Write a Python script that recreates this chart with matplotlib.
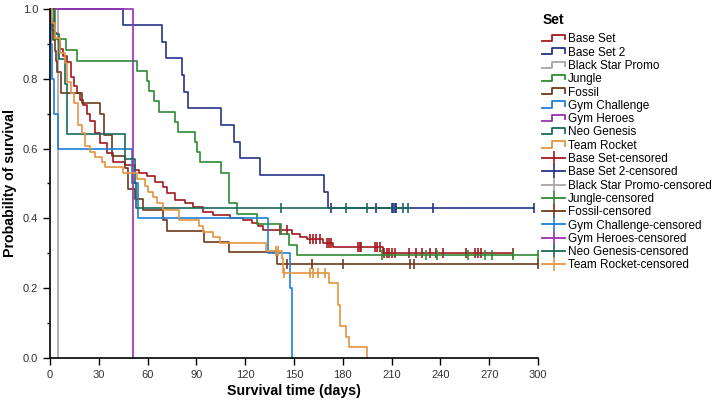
import matplotlib
matplotlib.use("Agg")
import matplotlib.pyplot as plt
import numpy as np
from matplotlib.lines import Line2D
from matplotlib.legend_handler import HandlerBase

plt.rcParams['font.family'] = ['Liberation Sans', 'DejaVu Sans']

# Kaplan-Meier curves: event times (days) and survival after each event
set_names = ["Base Set", "Base Set 2", "Black Star Promo", "Jungle", "Fossil",
             "Gym Challenge", "Gym Heroes", "Neo Genesis", "Team Rocket"]
set_colors = ["#a3191f", "#25348a", "#a6a6a6", "#2f8a34", "#6e3a1c",
              "#1f80d8", "#9a2fb0", "#1a6a5a", "#e39440"]

base_set_t = [0.5, 1.5, 3, 4.7, 6, 8, 10.3, 12.9, 14.5, 16.4, 18.5, 20.5, 22.5, 24.6, 27.7,
              30.7, 34.8, 38.9, 46.1, 52.2, 55.0, 59.4, 64.5, 69.6, 71.7, 76.8, 83.0, 88.1,
              94.2, 100.4, 110.6, 118.8, 124.0, 128.0, 131.1, 148.6, 153.7, 157.8, 168.0,
              174.1, 204.9]
base_set_s = [0.97, 0.95, 0.93, 0.906, 0.885, 0.865, 0.849, 0.806, 0.78, 0.758, 0.74, 0.725,
              0.70, 0.68, 0.644, 0.615, 0.587, 0.562, 0.553, 0.539, 0.529, 0.521, 0.505,
              0.491, 0.472, 0.453, 0.443, 0.432, 0.419, 0.41, 0.40, 0.395, 0.386, 0.378,
              0.368, 0.354, 0.346, 0.34, 0.33, 0.319, 0.302]
base_set_c = [141.6, 146.0, 159.8, 161.5, 163.5, 166.0, 170.0, 171.5, 173.0, 189.5, 190.3,
              191.0, 199.8, 201.0, 202.8, 205.5, 207.0, 208.5, 210.0, 212.0, 221.0, 225.0,
              228.4, 233.6, 237.3, 241.7, 256.0, 261.2, 263.2, 264.7, 284.8]

base_set2_t = [44.7, 69.0, 71.1, 80.9, 82.5, 85.0, 104.9, 113.1, 116.8, 129.0, 168.5, 171.0]
base_set2_s = [0.953, 0.906, 0.859, 0.811, 0.763, 0.715, 0.668, 0.620, 0.572, 0.524, 0.477,
               0.429]
base_set2_c = [172.7, 200.2, 210.0, 211.0, 212.0, 213.0, 235.2, 297.5]

black_star_t = [4.7]
black_star_s = [0.0]
black_star_c = []

jungle_t = [3.0, 9.8, 16.4, 53.7, 59.8, 60.8, 63.9, 67.0, 76.8, 78.9, 89.1, 90.2, 92.2,
            104.9, 110.2, 114.8, 127.2, 142.0, 147.1, 152.0]
jungle_s = [0.913, 0.882, 0.852, 0.823, 0.795, 0.766, 0.737, 0.706, 0.677, 0.648, 0.620,
            0.591, 0.561, 0.529, 0.443, 0.413, 0.384, 0.354, 0.324, 0.295]
jungle_c = [203.9, 231.0, 237.7, 257.1, 267.4, 271.5, 284.8, 300.0]

fossil_t = [0.5, 1.5, 2.0, 3.0, 3.5, 4.0, 6.8, 19.5, 30.7, 33.4, 37.9, 46.1, 48.2, 52.2,
            57.3, 69.6, 71.7, 94.5, 110.2, 139.3]
fossil_s = [0.97, 0.94, 0.91, 0.88, 0.85, 0.82, 0.76, 0.73, 0.70, 0.64, 0.58, 0.545, 0.485,
            0.455, 0.424, 0.394, 0.364, 0.333, 0.303, 0.27]
fossil_c = [145.9, 160.8, 180.3, 221.3, 224.0, 300.0]

gym_chal_t = [0.5, 1.5, 2.5, 5.0, 50.2, 53.9, 134.2, 147.5, 149.0]
gym_chal_s = [0.9, 0.8, 0.7, 0.6, 0.5, 0.4, 0.3, 0.2, 0.0]
gym_chal_c = []

gym_heroes_t = [50.8]
gym_heroes_s = [0.0]
gym_heroes_c = []

neo_t = [2.5, 5.5, 9.0, 10.5, 46.1, 52.0, 52.9]
neo_s = [0.929, 0.857, 0.786, 0.643, 0.571, 0.5, 0.429]
neo_c = [141.8, 181.9, 195.0, 217.2, 219.8]

rocket_t = [1.0, 3.1, 6.1, 9.2, 10.3, 12.9, 15.0, 17.4, 19.5, 21.5, 24.6, 27.7, 31.8, 33.8,
            45.0, 53.3, 58.4, 60.4, 63.5, 65.6, 69.6, 79.5, 91.8, 94.2, 100.4, 104.5, 132.8,
            142.4, 143.4, 171.8, 177.2, 178.2, 181.9, 184.0, 195.1]
rocket_s = [0.96, 0.916, 0.873, 0.844, 0.79, 0.76, 0.73, 0.668, 0.645, 0.607, 0.591, 0.577,
            0.562, 0.548, 0.529, 0.512, 0.493, 0.477, 0.462, 0.445, 0.424, 0.395, 0.378,
            0.362, 0.346, 0.330, 0.307, 0.286, 0.244, 0.214, 0.152, 0.092, 0.061, 0.031, 0.0]
rocket_c = [138.7, 140.3, 143.8, 159.8, 161.8, 164.9, 169.0]

times = [base_set_t, base_set2_t, black_star_t, jungle_t, fossil_t, gym_chal_t,
         gym_heroes_t, neo_t, rocket_t]
survs = [base_set_s, base_set2_s, black_star_s, jungle_s, fossil_s, gym_chal_s,
         gym_heroes_s, neo_s, rocket_s]
censs = [base_set_c, base_set2_c, black_star_c, jungle_c, fossil_c, gym_chal_c,
         gym_heroes_c, neo_c, rocket_c]


class StepHandler(HandlerBase):
    # little step icon like the original legend
    def create_artists(self, legend, orig_handle, xdescent, ydescent, width, height,
                       fontsize, trans):
        x0, y0 = -xdescent, -ydescent
        xs = [x0, x0 + 0.45 * width, x0 + 0.45 * width, x0 + width, x0 + width]
        ys = [y0 + 0.15 * height, y0 + 0.15 * height, y0 + 0.9 * height,
              y0 + 0.9 * height, y0 + 0.35 * height]
        ln = Line2D(xs, ys, color=orig_handle.get_color(), lw=1.3)
        ln.set_transform(trans)
        return [ln]


fig = plt.figure(figsize=(7.12, 4.07), dpi=100)
ax = fig.add_axes([50 / 712, 1 - 358 / 407, 488 / 712, 349 / 407])

for t, s, c, col in zip(times, survs, censs, set_colors):
    end = max([t[-1]] + c)
    xs = [0] + t + [end]
    ys = [1.0] + s + [s[-1]]
    ax.step(xs, ys, where='post', color=col, lw=1.2, clip_on=False)
    if c:
        idx = np.searchsorted(t, c, side='right')
        cy = np.array([1.0] + s)[idx]
        ax.plot(c, cy, ls='none', marker='|', ms=7, mew=1.2, color=col, clip_on=False)

ax.set_xlim(0, 300)
ax.set_ylim(0, 1.0)
ax.set_xticks(np.arange(0, 301, 30))
ax.set_yticks(np.arange(0, 1.01, 0.2))
ax.set_yticks(np.arange(0.1, 1.0, 0.2), minor=True)
ax.yaxis.set_major_formatter(matplotlib.ticker.FormatStrFormatter('%.1f'))
ax.tick_params(axis='both', which='major', direction='out', length=5, width=1,
               labelsize=8, labelcolor='#333333')
ax.tick_params(axis='y', which='minor', direction='out', length=2.5, width=1)
for sp in ['top', 'right']:
    ax.spines[sp].set_visible(False)
for sp in ['left', 'bottom']:
    ax.spines[sp].set_linewidth(1.2)
ax.set_xlabel("Survival time (days)", fontsize=10.2, fontweight='bold', labelpad=3)
ax.set_ylabel("Probability of survival", fontsize=10.2, fontweight='bold', labelpad=4)

fig.text(543 / 712, 1 - 20 / 407, "Set", fontsize=10, fontweight='bold', va='center')

step_handles = [Line2D([], [], color=col) for col in set_colors]
cens_handles = [Line2D([], [], color=col, lw=1.3, marker='|', ms=10, mew=1.2)
                for col in set_colors]
labels = set_names + [n + "-censored" for n in set_names]
leg = fig.legend(step_handles + cens_handles, labels, loc='upper left',
                 bbox_to_anchor=(540 / 712, 1 - 31 / 407), frameon=False, fontsize=8.5,
                 labelspacing=0.11, handlelength=1.9,
                 handletextpad=0.25, numpoints=1, borderaxespad=0, borderpad=0.2,
                 handler_map={h: StepHandler() for h in step_handles})

fig.savefig("out.png", dpi=100)
